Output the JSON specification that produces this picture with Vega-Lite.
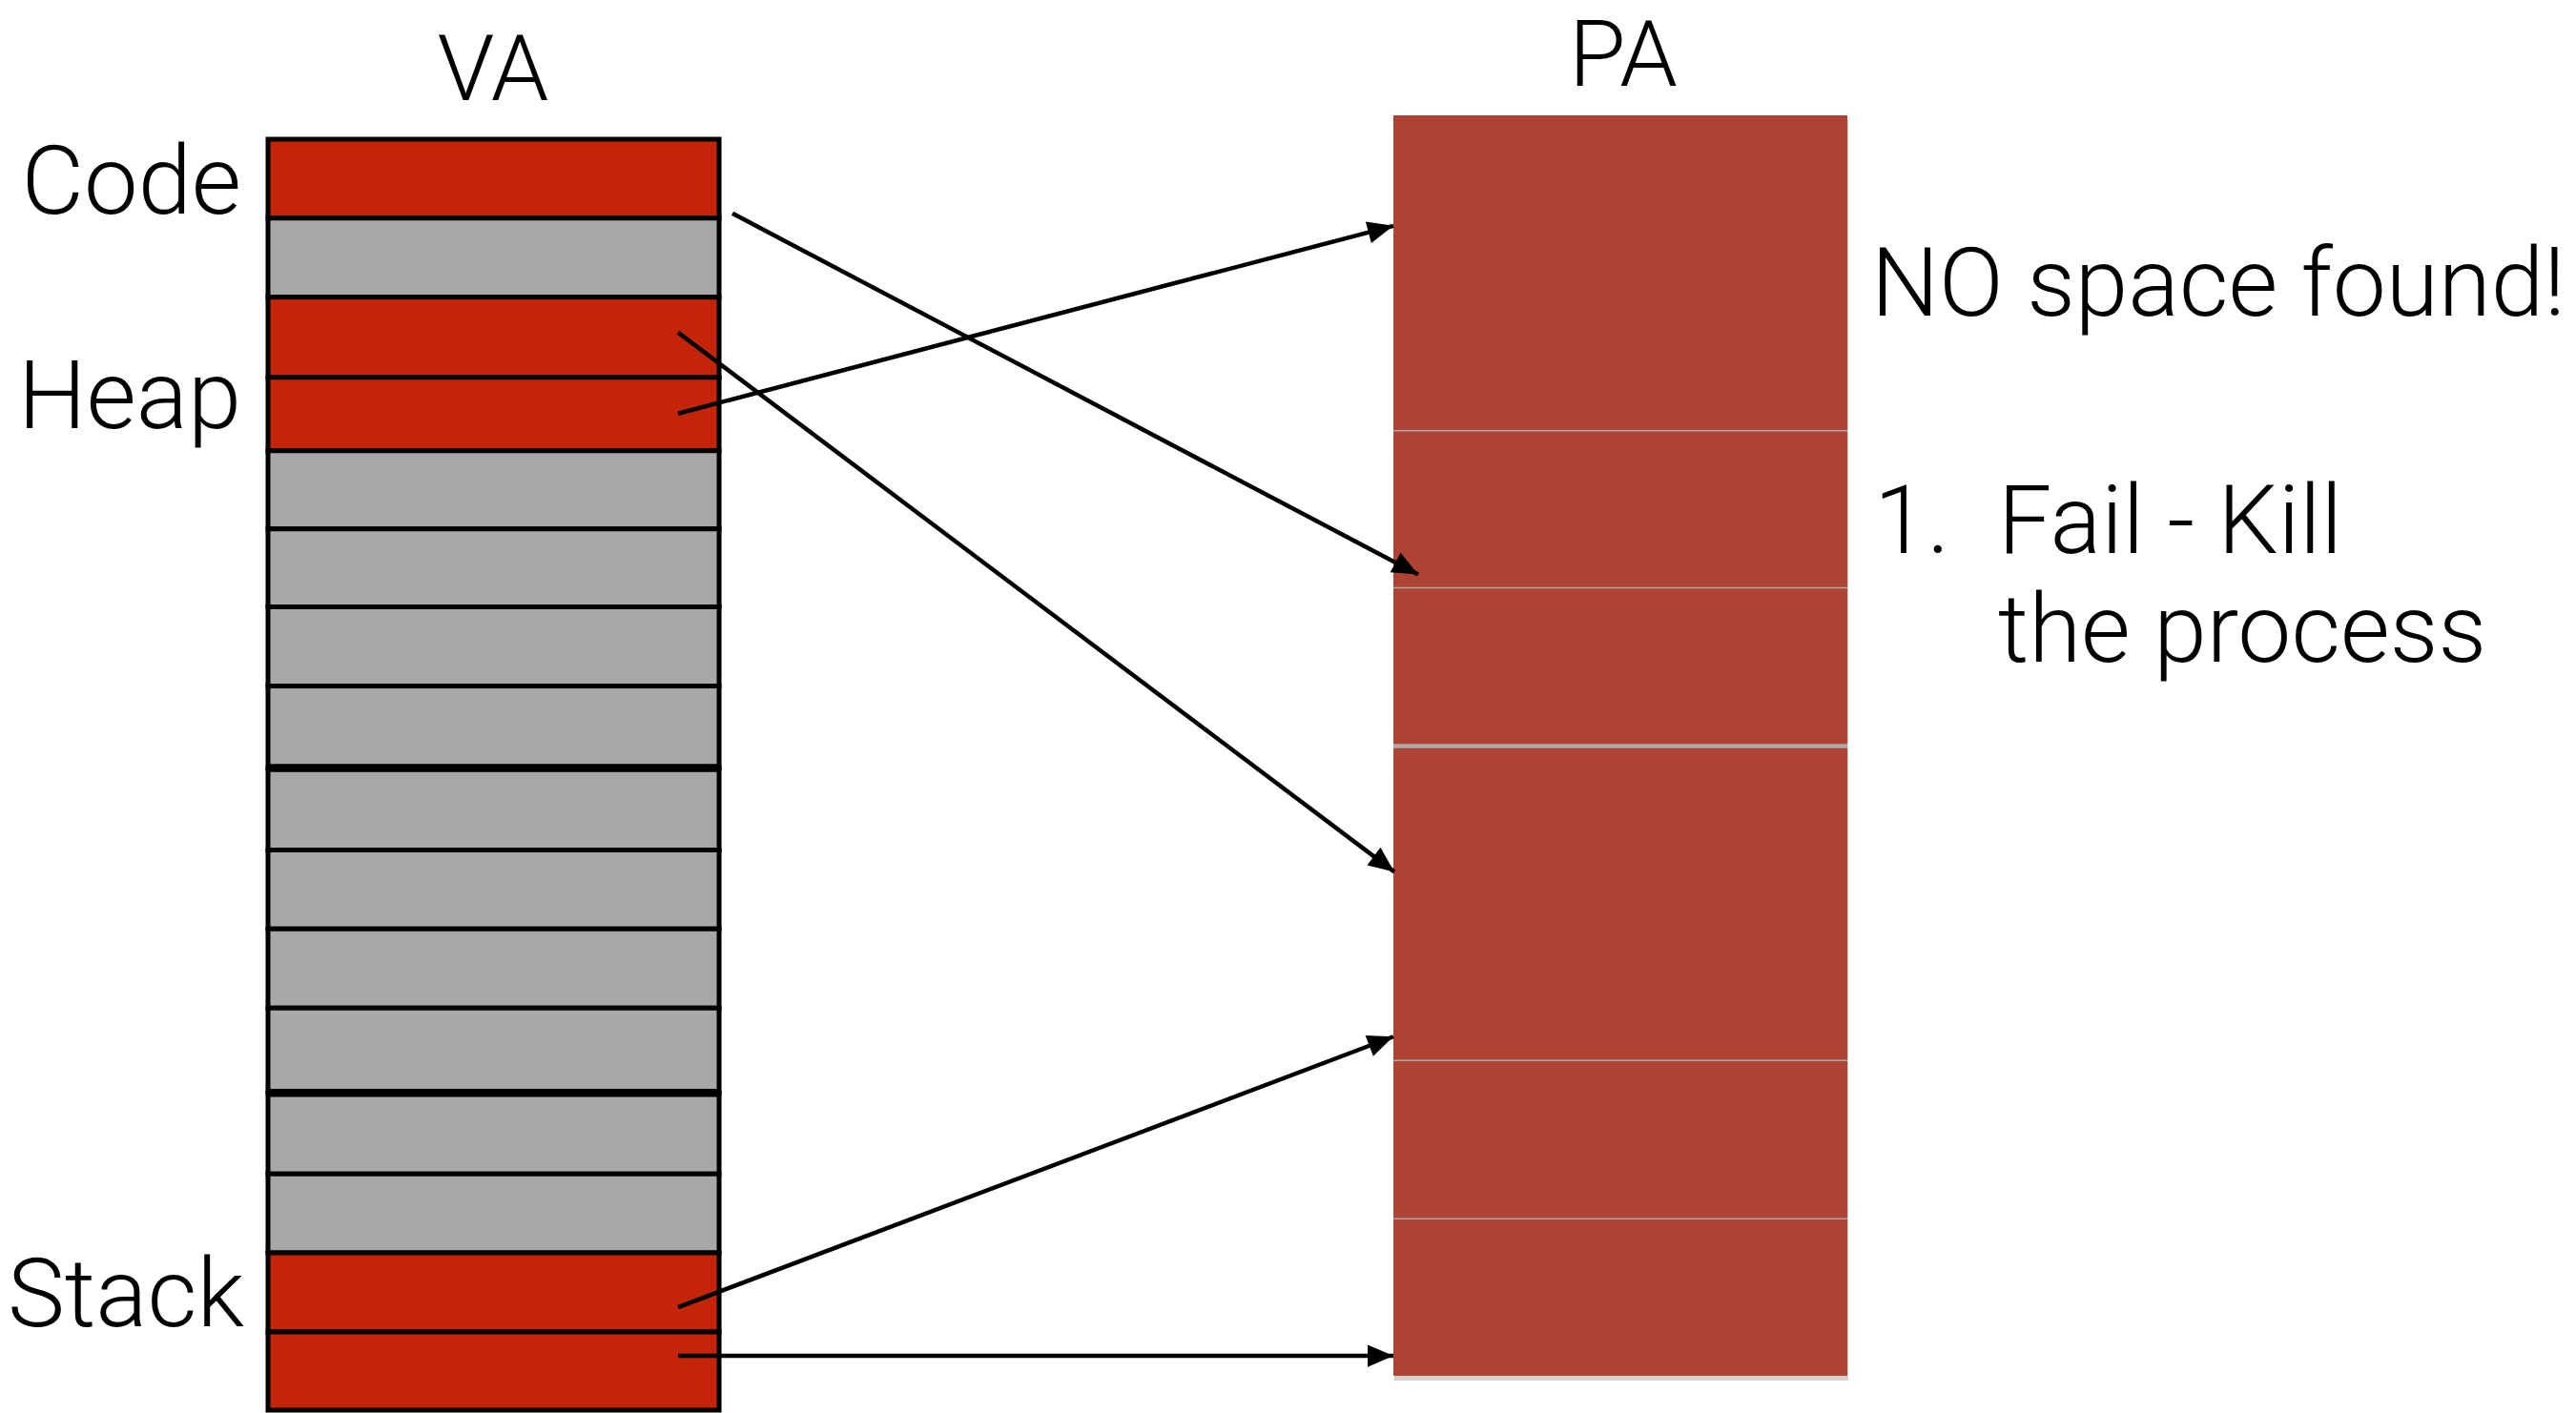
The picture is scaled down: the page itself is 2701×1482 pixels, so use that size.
{
  "$schema": "https://vega.github.io/schema/vega-lite/v6.json",
  "width": 2701,
  "height": 1482,
  "padding": 0,
  "autosize": {"type": "fit", "contains": "padding"},
  "background": "white",
  "config": {"view": {"stroke": null}, "axis": {"disable": true}},
  "datasets": {
    "va": [
      {"slot": 0, "top": 146, "bottom": 229, "kind": "used"},
      {"slot": 1, "top": 229, "bottom": 312, "kind": "free"},
      {"slot": 2, "top": 312, "bottom": 396, "kind": "used"},
      {"slot": 3, "top": 396, "bottom": 473, "kind": "used"},
      {"slot": 4, "top": 473, "bottom": 555, "kind": "free"},
      {"slot": 5, "top": 555, "bottom": 637, "kind": "free"},
      {"slot": 6, "top": 637, "bottom": 720, "kind": "free"},
      {"slot": 7, "top": 720, "bottom": 806, "kind": "free"},
      {"slot": 8, "top": 806, "bottom": 892, "kind": "free"},
      {"slot": 9, "top": 892, "bottom": 975, "kind": "free"},
      {"slot": 10, "top": 975, "bottom": 1058, "kind": "free"},
      {"slot": 11, "top": 1058, "bottom": 1147, "kind": "free"},
      {"slot": 12, "top": 1147, "bottom": 1232, "kind": "free"},
      {"slot": 13, "top": 1232, "bottom": 1315, "kind": "free"},
      {"slot": 14, "top": 1315, "bottom": 1398, "kind": "used"},
      {"slot": 15, "top": 1398, "bottom": 1480, "kind": "used"}
    ],
    "vaThick": [
      {"y": 806},
      {"y": 1147}
    ],
    "pa": [
      {"frame": "A", "top": 121, "bottom": 452},
      {"frame": "B", "top": 452, "bottom": 617},
      {"frame": "C", "top": 617, "bottom": 783},
      {"frame": "D", "top": 783, "bottom": 1113},
      {"frame": "E", "top": 1113, "bottom": 1279},
      {"frame": "F", "top": 1279, "bottom": 1444}
    ],
    "paLines": [
      {"y": 452},
      {"y": 617},
      {"y": 1113},
      {"y": 1279}
    ],
    "paGap": [
      {"y": 783}
    ],
    "arrows": [
      {"from": "Code", "x": 768, "y": 224, "x2": 1487, "y2": 603, "angle": 27.8},
      {"from": "Heap 2", "x": 711, "y": 434, "x2": 1461, "y2": 237, "angle": 345.3},
      {"from": "Heap 1", "x": 711, "y": 349, "x2": 1462, "y2": 915, "angle": 37.0},
      {"from": "Stack 1", "x": 711, "y": 1372, "x2": 1461, "y2": 1088, "angle": 339.3},
      {"from": "Stack 2", "x": 711, "y": 1423, "x2": 1461, "y2": 1423, "angle": 0}
    ],
    "centerText": [
      {"label": "VA", "x": 517, "y": 105},
      {"label": "PA", "x": 1702, "y": 90}
    ],
    "rightText": [
      {"label": "Code", "x": 253, "y": 224},
      {"label": "Heap", "x": 253, "y": 449},
      {"label": "Stack", "x": 256, "y": 1392}
    ],
    "leftText": [
      {"label": "NO space found!", "x": 1962, "y": 331},
      {"label": "1.", "x": 1965, "y": 580},
      {"label": "Fail - Kill", "x": 2095, "y": 580},
      {"label": "the process", "x": 2095, "y": 694}
    ]
  },
  "encoding": {},
  "layer": [
    {
      "data": {"name": "pa"},
      "mark": {"type": "rect", "fill": "#d2d2d2", "xOffset": 1, "yOffset": 5, "x2Offset": 1, "y2Offset": 5},
      "encoding": {
        "x": {"datum": 1461, "type": "quantitative", "scale": {"domain": [0, 2701], "nice": false, "zero": false}},
        "x2": {"datum": 1937},
        "y": {"field": "top", "type": "quantitative", "scale": {"domain": [0, 1482], "nice": false, "zero": false, "reverse": true}},
        "y2": {"field": "bottom"}
      }
    },
    {
      "data": {"name": "pa"},
      "mark": {"type": "rect", "fill": "#ae4333"},
      "encoding": {
        "x": {"datum": 1461, "type": "quantitative"},
        "x2": {"datum": 1937},
        "y": {"field": "top", "type": "quantitative"},
        "y2": {"field": "bottom"}
      }
    },
    {
      "data": {"name": "paLines"},
      "mark": {"type": "rule", "stroke": "#a9a9a9", "strokeWidth": 1.5},
      "encoding": {
        "x": {"datum": 1461, "type": "quantitative"},
        "x2": {"datum": 1937},
        "y": {"field": "y", "type": "quantitative"}
      }
    },
    {
      "data": {"name": "paGap"},
      "mark": {"type": "rule", "stroke": "#aaaaaa", "strokeWidth": 4.5},
      "encoding": {
        "x": {"datum": 1461, "type": "quantitative"},
        "x2": {"datum": 1937},
        "y": {"field": "y", "type": "quantitative"}
      }
    },
    {
      "data": {"name": "va"},
      "mark": {"type": "rect", "stroke": "black", "strokeWidth": 5},
      "encoding": {
        "x": {"datum": 281, "type": "quantitative"},
        "x2": {"datum": 754},
        "y": {"field": "top", "type": "quantitative"},
        "y2": {"field": "bottom"},
        "fill": {"field": "kind", "type": "nominal", "scale": {"domain": ["used", "free"], "range": ["#c42508", "#a6a9a8"]}, "legend": null}
      }
    },
    {
      "data": {"name": "vaThick"},
      "mark": {"type": "rule", "stroke": "black", "strokeWidth": 8.5},
      "encoding": {
        "x": {"datum": 281, "type": "quantitative"},
        "x2": {"datum": 754},
        "y": {"field": "y", "type": "quantitative"}
      }
    },
    {
      "data": {"name": "arrows"},
      "mark": {"type": "rule", "stroke": "black", "strokeWidth": 4.5},
      "encoding": {
        "x": {"field": "x", "type": "quantitative"},
        "y": {"field": "y", "type": "quantitative"},
        "x2": {"field": "x2"},
        "y2": {"field": "y2"}
      }
    },
    {
      "data": {"name": "arrows"},
      "mark": {"type": "point", "shape": "M0,0L-1,-0.43L-1,0.43Z", "filled": true, "color": "black", "opacity": 1, "size": 2916},
      "encoding": {
        "x": {"field": "x2", "type": "quantitative"},
        "y": {"field": "y2", "type": "quantitative"},
        "angle": {"field": "angle", "type": "quantitative", "scale": null}
      }
    },
    {
      "data": {"name": "centerText"},
      "mark": {"type": "text", "align": "center", "baseline": "alphabetic", "font": "Roboto", "fontWeight": 300, "fontSize": 97, "color": "black"},
      "encoding": {
        "x": {"field": "x", "type": "quantitative"},
        "y": {"field": "y", "type": "quantitative"},
        "text": {"field": "label"}
      }
    },
    {
      "data": {"name": "rightText"},
      "mark": {"type": "text", "align": "right", "baseline": "alphabetic", "font": "Roboto", "fontWeight": 300, "fontSize": 101, "color": "black"},
      "encoding": {
        "x": {"field": "x", "type": "quantitative"},
        "y": {"field": "y", "type": "quantitative"},
        "text": {"field": "label"}
      }
    },
    {
      "data": {"name": "leftText"},
      "mark": {"type": "text", "align": "left", "baseline": "alphabetic", "font": "Roboto", "fontWeight": 300, "fontSize": 100, "color": "black"},
      "encoding": {
        "x": {"field": "x", "type": "quantitative"},
        "y": {"field": "y", "type": "quantitative"},
        "text": {"field": "label"}
      }
    }
  ]
}
